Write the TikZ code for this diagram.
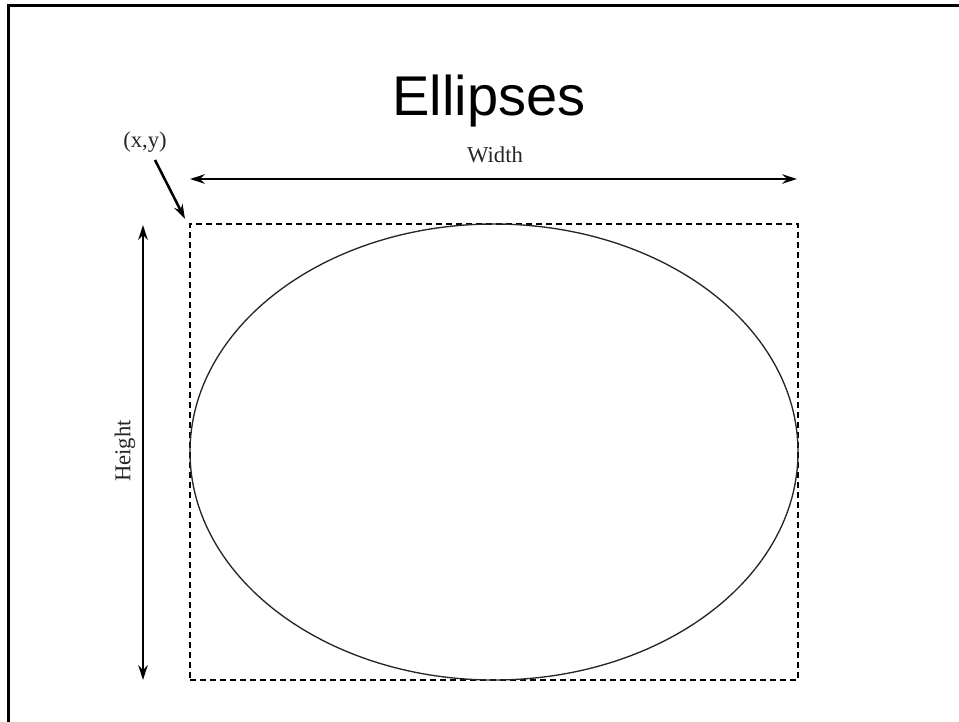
\documentclass[tikz,border=0pt]{standalone}
\usepackage{fontspec}
\setmainfont{Liberation Serif}
\newfontfamily\titlefont{Liberation Sans}
\usetikzlibrary{arrows.meta,shapes.geometric}
\tikzset{
  dimarrow/.style={line width=1.9pt,{Stealth[length=11pt,width=7pt]}-{Stealth[length=11pt,width=7pt]}},
  ptarrow/.style={line width=1.9pt,-{Stealth[length=11pt,width=7pt]}},
  lbl/.style={font=\fontsize{17}{19}\selectfont, text=black!85, inner sep=0pt},
  boxdash/.style={draw, line width=1pt, dash pattern=on 4.5pt off 3pt, inner sep=0pt},
  ell/.style={draw, ellipse, line width=1pt, inner sep=0pt, black!85}
}
\begin{document}
\begin{tikzpicture}[x=0.75pt,y=-0.75pt]
\useasboundingbox (0,0) rectangle (959,721);
% frame
\draw[line width=2.25pt] (8,730) -- (8,5) -- (970,5);
% title
\node[font=\titlefont\fontsize{42}{48}\selectfont, anchor=base, inner sep=0pt] (title) at (489,115) {Ellipses};
% box and ellipse
\node[boxdash, minimum width=456pt, minimum height=342pt] (box) at (494,452) {};
\node[ell, minimum width=456pt, minimum height=342pt] (el) at (494,452) {};
% width
\coordinate (wl) at (190,179);
\coordinate (wr) at (797,179);
\draw[dimarrow] (wl) -- (wr);
\node[lbl, anchor=base] (wtxt) at (495,162) {Width};
% height
\coordinate (ht) at (143,225);
\coordinate (hb) at (143,680);
\draw[dimarrow] (ht) -- (hb);
\node[lbl, rotate=90] (htxt) at (125,451) {Height};
% (x,y)
\node[lbl, anchor=base] (xy) at (145,147) {(x,y)};
\coordinate (xys) at (155,160);
\coordinate (xye) at (185,219);
\draw[ptarrow] (xys) -- (xye);
\end{tikzpicture}
\end{document}
